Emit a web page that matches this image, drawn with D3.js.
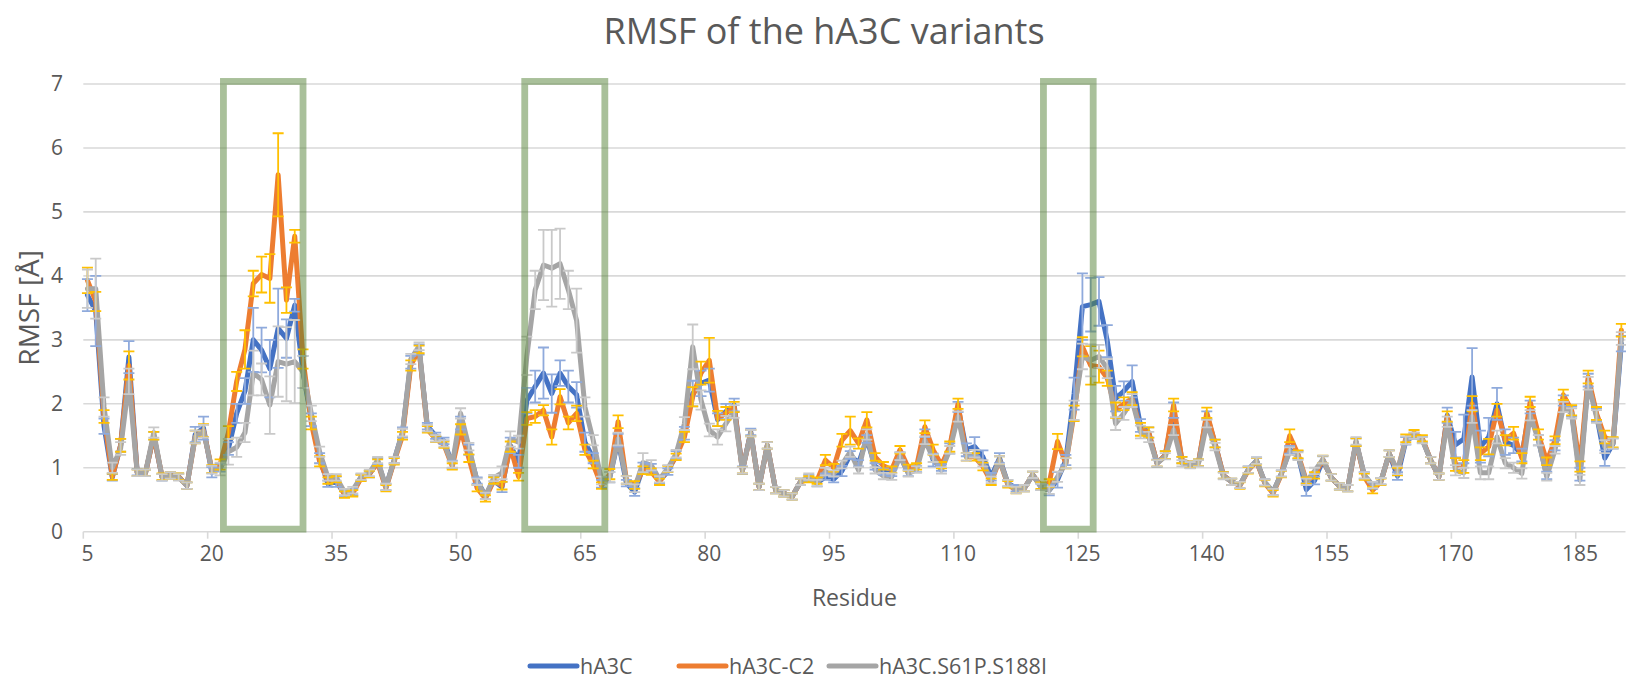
<!DOCTYPE html>
<html><head><meta charset="utf-8">
<script src="https://cdn.jsdelivr.net/npm/d3@7"></script>
<style>
body{margin:0;background:#fff}
svg{display:block}
text{font-family:"Open Sans","Liberation Sans",Arial,sans-serif;fill:#595959}
</style>
</head><body>
<svg id="chart" width="1626" height="678"></svg>
<script>
const residues = [5,6,7,8,9,10,11,12,13,14,15,16,17,18,19,20,21,22,23,24,25,26,27,28,29,30,31,32,33,34,35,36,37,38,39,40,41,42,43,44,45,46,47,48,49,50,51,52,53,54,55,56,57,58,59,60,61,62,63,64,65,66,67,68,69,70,71,72,73,74,75,76,77,78,79,80,81,82,83,84,85,86,87,88,89,90,91,92,93,94,95,96,97,98,99,100,101,102,103,104,105,106,107,108,109,110,111,112,113,114,115,116,117,118,119,120,121,122,123,124,125,126,127,128,129,130,131,132,133,134,135,136,137,138,139,140,141,142,143,144,145,146,147,148,149,150,151,152,153,154,155,156,157,158,159,160,161,162,163,164,165,166,167,168,169,170,171,172,173,174,175,176,177,178,179,180,181,182,183,184,185,186,187,188,189,190];

const hA3C = [3.70,3.45,1.65,0.85,1.35,2.73,0.93,0.92,1.50,0.85,
0.88,0.86,0.72,1.52,1.62,0.93,1.00,1.30,1.85,2.20,
3.00,2.84,2.55,3.18,3.02,3.54,2.50,1.75,1.15,0.75,
0.78,0.60,0.62,0.85,0.90,1.10,0.70,1.12,1.55,2.65,
2.85,1.65,1.50,1.42,1.05,1.70,1.28,0.80,0.56,0.80,
0.70,1.35,1.10,2.05,2.27,2.48,2.16,2.48,2.27,2.14,
1.40,1.15,0.75,0.85,1.43,0.76,0.62,1.00,1.00,0.80,
0.94,1.20,1.54,2.16,2.32,2.37,1.75,1.88,1.98,0.96,
1.56,0.70,1.35,0.65,0.60,0.55,0.78,0.84,0.76,0.86,
0.82,0.95,1.20,1.07,1.45,1.02,0.94,0.92,1.18,0.92,
0.98,1.54,1.12,1.00,1.30,1.95,1.28,1.33,1.17,0.86,
1.15,0.76,0.68,0.68,0.89,0.70,0.65,0.81,1.12,2.16,
3.52,3.55,3.60,2.98,2.08,2.20,2.35,1.66,1.55,1.07,
1.20,1.90,1.12,1.05,1.08,1.82,1.38,0.88,0.78,0.73,
0.97,1.11,0.77,0.62,0.91,1.28,1.20,0.66,0.80,1.12,
0.85,0.71,0.68,1.40,0.88,0.72,0.79,1.22,0.87,1.42,
1.50,1.44,1.12,0.86,1.82,1.36,1.45,2.42,1.33,1.48,
2.00,1.40,1.35,1.20,1.95,1.43,0.88,1.35,2.05,1.88,
0.90,2.37,1.83,1.15,1.38,2.94];

const hA3C_C2 = [3.93,3.60,1.80,0.86,1.35,2.60,0.92,0.92,1.50,0.86,
0.88,0.86,0.72,1.48,1.58,0.98,1.05,1.55,2.35,2.85,
3.88,4.02,3.96,5.58,3.62,4.62,2.70,1.70,1.10,0.80,
0.82,0.58,0.60,0.84,0.90,1.08,0.68,1.10,1.50,2.60,
2.85,1.60,1.45,1.36,1.02,1.60,1.15,0.68,0.52,0.80,
0.72,1.33,0.86,1.77,1.80,1.90,1.48,2.11,1.70,1.85,
1.28,1.05,0.72,0.90,1.72,0.81,0.73,0.96,0.94,0.78,
0.98,1.17,1.48,2.11,2.48,2.68,1.77,1.85,1.95,0.96,
1.54,0.70,1.35,0.65,0.60,0.55,0.78,0.82,0.80,1.12,
1.00,1.43,1.58,1.38,1.75,1.17,1.03,0.97,1.28,1.00,
1.02,1.64,1.28,1.04,1.33,2.00,1.17,1.17,1.02,0.78,
1.12,0.74,0.65,0.68,0.89,0.72,0.76,1.41,1.07,1.85,
2.89,2.60,2.58,2.40,1.90,2.00,2.08,1.60,1.55,1.07,
1.20,1.98,1.12,1.05,1.08,1.86,1.38,0.88,0.78,0.72,
0.96,1.10,0.76,0.60,0.90,1.50,1.21,0.80,0.88,1.13,
0.85,0.71,0.68,1.40,0.86,0.65,0.78,1.22,0.94,1.46,
1.54,1.46,1.12,0.86,1.80,1.05,1.02,2.00,1.22,1.33,
1.90,1.43,1.54,1.15,2.03,1.52,1.10,1.43,2.14,1.90,
1.02,2.42,1.85,1.48,1.40,3.15];

const hA3C_S61P_S188I = [3.80,3.80,1.95,1.00,1.30,2.35,0.92,0.92,1.55,0.85,
0.88,0.85,0.72,1.48,1.57,0.97,0.98,1.25,1.32,1.55,
2.48,2.38,1.98,2.66,2.62,2.66,2.50,1.85,1.25,0.85,
0.85,0.62,0.65,0.86,0.92,1.12,0.70,1.12,1.55,2.70,
2.90,1.62,1.46,1.38,1.05,1.85,1.33,0.78,0.56,0.84,
0.92,1.45,1.40,2.75,3.78,4.17,4.12,4.19,3.78,3.30,
1.95,1.43,0.80,0.85,1.45,0.81,0.68,1.08,1.04,0.82,
0.99,1.22,1.69,2.89,2.06,1.59,1.48,1.69,1.88,0.96,
1.54,0.70,1.35,0.65,0.60,0.55,0.78,0.86,0.76,0.94,
0.91,1.05,1.25,0.96,1.52,0.96,0.87,0.86,1.18,0.91,
0.97,1.43,1.15,0.96,1.28,1.80,1.17,1.22,1.07,0.81,
1.12,0.76,0.65,0.68,0.89,0.70,0.65,0.86,1.07,1.90,
2.74,2.68,2.74,2.55,1.69,1.85,2.05,1.56,1.48,1.07,
1.18,1.59,1.07,1.04,1.07,1.69,1.33,0.87,0.78,0.73,
0.97,1.11,0.77,0.62,0.91,1.26,1.18,0.78,0.95,1.13,
0.85,0.71,0.68,1.42,0.88,0.73,0.79,1.22,0.96,1.43,
1.50,1.43,1.12,0.86,1.72,0.96,0.92,1.80,0.92,0.92,
1.48,1.07,1.00,0.91,1.82,1.43,0.86,1.28,1.95,1.85,
0.81,2.32,1.80,1.33,1.38,3.02];

const hA3C_err = [0.25,0.55,0.12,0.05,0.10,0.25,0.05,0.05,0.06,0.05,
0.05,0.05,0.05,0.12,0.18,0.08,0.06,0.10,0.15,0.20,
0.50,0.35,0.45,0.62,0.30,0.10,0.25,0.10,0.08,0.05,
0.08,0.05,0.05,0.05,0.05,0.05,0.05,0.05,0.08,0.10,
0.08,0.05,0.05,0.05,0.06,0.10,0.08,0.05,0.05,0.06,
0.08,0.12,0.10,0.20,0.25,0.40,0.30,0.20,0.25,0.20,
0.15,0.08,0.06,0.08,0.10,0.05,0.06,0.08,0.06,0.05,
0.05,0.06,0.10,0.20,0.20,0.18,0.10,0.12,0.10,0.06,
0.05,0.05,0.05,0.05,0.05,0.05,0.05,0.05,0.05,0.05,
0.05,0.08,0.06,0.05,0.06,0.05,0.05,0.05,0.06,0.05,
0.05,0.06,0.10,0.05,0.08,0.08,0.10,0.15,0.10,0.06,
0.08,0.05,0.05,0.05,0.05,0.05,0.08,0.12,0.08,0.25,
0.52,0.42,0.38,0.25,0.20,0.15,0.25,0.10,0.08,0.06,
0.06,0.12,0.05,0.05,0.05,0.06,0.06,0.05,0.05,0.05,
0.05,0.05,0.05,0.05,0.05,0.06,0.06,0.10,0.06,0.06,
0.05,0.05,0.05,0.06,0.05,0.05,0.05,0.05,0.06,0.06,
0.05,0.05,0.05,0.05,0.12,0.20,0.38,0.45,0.25,0.30,
0.25,0.20,0.12,0.10,0.10,0.08,0.06,0.08,0.08,0.08,
0.10,0.10,0.10,0.12,0.08,0.12];

const hA3C_C2_err = [0.20,0.15,0.10,0.05,0.10,0.22,0.05,0.05,0.06,0.05,
0.05,0.05,0.05,0.10,0.10,0.06,0.08,0.10,0.15,0.30,
0.20,0.28,0.38,0.65,0.20,0.10,0.15,0.10,0.08,0.05,
0.05,0.05,0.05,0.05,0.05,0.05,0.05,0.05,0.06,0.08,
0.06,0.05,0.05,0.05,0.05,0.08,0.06,0.05,0.05,0.05,
0.06,0.08,0.06,0.10,0.10,0.08,0.12,0.12,0.10,0.12,
0.08,0.06,0.05,0.08,0.10,0.06,0.06,0.06,0.05,0.05,
0.05,0.05,0.08,0.15,0.18,0.35,0.12,0.10,0.08,0.05,
0.05,0.05,0.05,0.05,0.05,0.05,0.05,0.05,0.05,0.08,
0.06,0.10,0.22,0.08,0.12,0.06,0.06,0.05,0.06,0.05,
0.05,0.10,0.08,0.05,0.08,0.08,0.06,0.06,0.06,0.05,
0.06,0.05,0.05,0.05,0.05,0.05,0.06,0.12,0.08,0.12,
0.15,0.30,0.25,0.12,0.12,0.10,0.10,0.10,0.08,0.05,
0.06,0.10,0.05,0.05,0.05,0.08,0.06,0.05,0.05,0.05,
0.05,0.05,0.05,0.05,0.05,0.10,0.06,0.05,0.05,0.06,
0.05,0.05,0.05,0.06,0.05,0.05,0.05,0.05,0.06,0.06,
0.05,0.05,0.05,0.05,0.08,0.10,0.10,0.12,0.10,0.12,
0.10,0.08,0.10,0.08,0.08,0.08,0.06,0.06,0.08,0.08,
0.08,0.10,0.10,0.10,0.08,0.10];

const hA3C_S61P_S188I_err = [0.30,0.47,0.15,0.08,0.10,0.20,0.05,0.05,0.08,0.05,
0.05,0.05,0.05,0.10,0.10,0.06,0.10,0.20,0.15,0.15,
0.35,0.25,0.45,0.55,0.58,0.65,0.25,0.12,0.08,0.05,
0.05,0.05,0.05,0.05,0.05,0.05,0.05,0.05,0.06,0.08,
0.06,0.05,0.05,0.05,0.05,0.08,0.06,0.05,0.05,0.05,
0.10,0.12,0.10,0.30,0.30,0.55,0.60,0.55,0.30,0.50,
0.15,0.08,0.06,0.08,0.10,0.06,0.06,0.15,0.08,0.05,
0.05,0.06,0.10,0.35,0.15,0.10,0.12,0.12,0.10,0.05,
0.05,0.05,0.05,0.05,0.05,0.05,0.05,0.05,0.05,0.06,
0.05,0.06,0.08,0.05,0.08,0.05,0.05,0.05,0.06,0.05,
0.05,0.06,0.06,0.05,0.06,0.08,0.06,0.06,0.05,0.05,
0.06,0.05,0.05,0.05,0.05,0.05,0.06,0.08,0.08,0.15,
0.20,0.25,0.18,0.15,0.10,0.10,0.10,0.10,0.08,0.05,
0.05,0.08,0.05,0.05,0.05,0.06,0.06,0.05,0.05,0.05,
0.05,0.05,0.05,0.05,0.05,0.06,0.06,0.05,0.05,0.06,
0.05,0.05,0.05,0.06,0.05,0.05,0.05,0.05,0.06,0.06,
0.05,0.05,0.05,0.05,0.08,0.08,0.08,0.10,0.10,0.10,
0.10,0.08,0.08,0.08,0.08,0.08,0.06,0.06,0.08,0.08,
0.08,0.10,0.10,0.10,0.08,0.10];

const seriesNames = ["hA3C", "hA3C-C2", "hA3C.S61P.S188I"];
const xTickLabels = [5,20,35,50,65,80,95,110,125,140,155,170,185];
const yTicks = [0,1,2,3,4,5,6,7];
// highlighted residue windows [from, to] in residue units
const highlightBoxes = [[21.4,31.0],[57.74,67.4],[120.3,126.3]];

const lineColors = ["#4472C4","#ED7D31","#A5A5A5"];
const errColors = ["#8FAADC","#FFC000","#C9C9C9"];

const svg = d3.select("#chart");
const L = 83.3, R = 1625.5, T = 84, B = 531.7;

const x = d3.scaleBand().domain(residues).range([L, R]).paddingInner(0).paddingOuter(0);
const bw = x.bandwidth();
const xc = d3.scaleLinear().domain([residues[0]-0.5, residues[residues.length-1]+0.5]).range([L, R]);
const y = d3.scaleLinear().domain([0,7]).range([B, T]);
const cx = r => x(r) + bw/2;

// gridlines
svg.append("g").selectAll("line").data(yTicks).join("line")
  .attr("x1", L).attr("x2", R)
  .attr("y1", d=>y(d)).attr("y2", d=>y(d))
  .attr("stroke", "#D9D9D9").attr("stroke-width", 1.6);

// x tick marks at category boundaries
svg.append("g").selectAll("line").data(xTickLabels).join("line")
  .attr("x1", d=>x(d)).attr("x2", d=>x(d))
  .attr("y1", B).attr("y2", B+7)
  .attr("stroke", "#D9D9D9").attr("stroke-width", 1.6);

// x labels via axis
const xAxis = d3.axisBottom(x).tickValues(xTickLabels).tickSize(0).tickPadding(14);
const gx = svg.append("g").attr("transform", `translate(0,${B})`).call(xAxis);
gx.select(".domain").remove();
gx.selectAll("text").style("font-size","21px").attr("fill","#595959");

// y labels
const yAxis = d3.axisLeft(y).tickValues(yTicks).tickSize(0).tickPadding(0).tickFormat(d3.format("d"));
const gy = svg.append("g").attr("transform", `translate(${63},0)`).call(yAxis);
gy.select(".domain").remove();
gy.selectAll("text").style("font-size","21px").attr("fill","#595959");

const allSeries = [hA3C, hA3C_C2, hA3C_S61P_S188I];
const allErr = [hA3C_err, hA3C_C2_err, hA3C_S61P_S188I_err];

const line = d3.line().x((d,i)=>cx(residues[i])).y(d=>y(d));
allSeries.forEach((s,k)=>{
  svg.append("path").datum(s).attr("d", line)
    .attr("fill","none").attr("stroke", lineColors[k]).attr("stroke-width", 5)
    .attr("stroke-linejoin","round").attr("stroke-linecap","round");
});

allSeries.forEach((s,k)=>{
  const g = svg.append("g").attr("stroke", errColors[k]).attr("stroke-width", 1.8).attr("fill","none");
  const pts = s.map((v,i)=>({r:residues[i], v, e: allErr[k][i]}));
  g.selectAll("path").data(pts).join("path")
    .attr("d", d=>{
      const X = cx(d.r), y1 = y(d.v + d.e), y0 = y(d.v - d.e), c = 5.5;
      return `M${X},${y0}L${X},${y1}M${X-c},${y1}L${X+c},${y1}M${X-c},${y0}L${X+c},${y0}`;
    });
});

// highlight boxes
svg.append("g").selectAll("rect").data(highlightBoxes).join("rect")
  .attr("x", d=>xc(d[0])).attr("width", d=>xc(d[1])-xc(d[0]))
  .attr("y", y(7.04)).attr("height", y(0.04)-y(7.04))
  .attr("fill","none").attr("stroke","#548235").attr("stroke-opacity",0.5).attr("stroke-width",6.8);

// title
svg.append("text").attr("x", 824).attr("y", 44).attr("text-anchor","middle")
  .style("font-size","36px").text("RMSF of the hA3C variants");

// axis titles
svg.append("text").attr("x", (L+R)/2).attr("y", 606).attr("text-anchor","middle")
  .style("font-size","23px").text("Residue");
svg.append("text").attr("transform", `translate(39,${(T+B)/2}) rotate(-90)`).attr("text-anchor","middle")
  .style("font-size","28px").text("RMSF [Å]");

// legend
const legendX = [530, 679, 829];
const lg = svg.append("g");
seriesNames.forEach((n,k)=>{
  lg.append("line").attr("x1", legendX[k]).attr("x2", legendX[k]+47).attr("y1", 666).attr("y2", 666)
    .attr("stroke", lineColors[k]).attr("stroke-width", 5).attr("stroke-linecap","round");
  lg.append("text").attr("x", legendX[k]+50).attr("y", 673.5).style("font-size","21.5px").text(n);
});
</script>
</body></html>
